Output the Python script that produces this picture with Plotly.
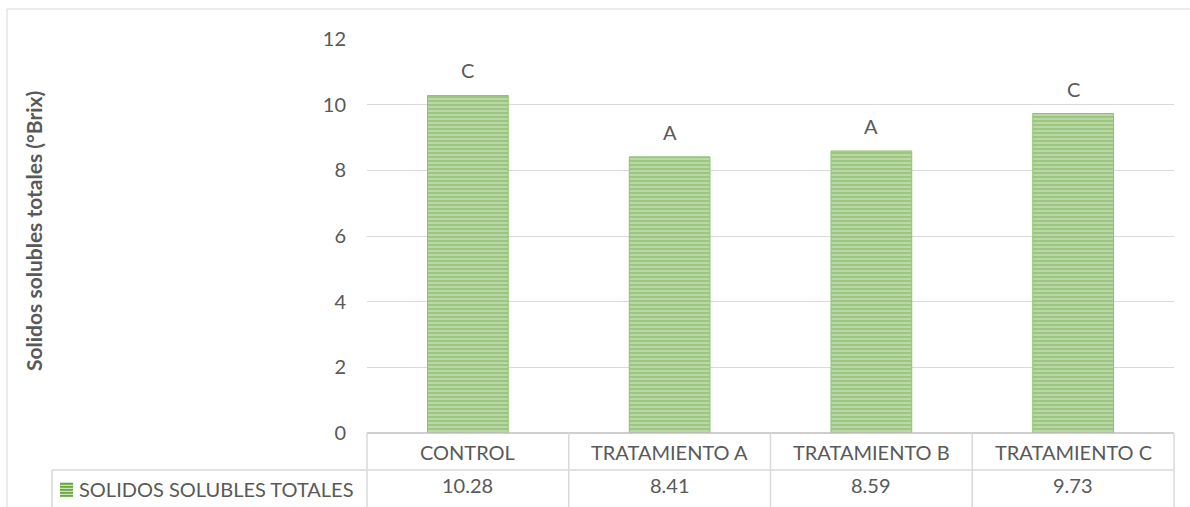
import plotly.graph_objects as go

# Data
categorias = ["CONTROL", "TRATAMIENTO A", "TRATAMIENTO B", "TRATAMIENTO C"]
solidos = [10.28, 8.41, 8.59, 9.73]
letras = ["C", "A", "A", "C"]
serie = "SOLIDOS SOLUBLES TOTALES"
y_ticks = [0, 2, 4, 6, 8, 10, 12]

# Canvas and plot-area geometry (pixels)
W, H = 1190, 507
L, R, T, B = 367, 16, 39, 74
pw = W - L - R
ph = H - T - B

FONT = "Lato"
FS = 20
TXT = "#595959"
GRID = "#D9D9D9"
AXIS = "#BFBFBF"
GREEN = "#6AA842"
PALE = "#CDE4BD"


def px(x):
    return (x - L) / pw


def py(y):
    return (H - B - y) / ph


fig = go.Figure()
fig.add_trace(go.Bar(
    x=categorias, y=solidos, name=serie, width=0.4,
    marker=dict(
        color=PALE,
        line=dict(color="#8DC46A", width=1),
        pattern=dict(shape="-", fgcolor=GREEN, bgcolor=PALE, size=4, solidity=0.7),
    ),
    showlegend=False,
))

shapes = []
# outer chart border
shapes.append(dict(type="rect", xref="paper", yref="paper",
                   x0=px(7), x1=px(W + 20), y0=py(H + 20), y1=py(9),
                   line=dict(color=GRID, width=1), fillcolor="rgba(0,0,0,0)", layer="below"))

# data table grid
n = len(categorias)
row1, row2, bottom = 433, 470, H + 20
shapes.append(dict(type="line", xref="paper", yref="paper", x0=0, x1=1, y0=py(row1), y1=py(row1),
                   line=dict(color=AXIS, width=1.5)))
shapes.append(dict(type="line", xref="paper", yref="paper", x0=px(52), x1=1, y0=py(row2), y1=py(row2),
                   line=dict(color=GRID, width=1.5)))
for i in range(n + 1):
    xx = i / n
    shapes.append(dict(type="line", xref="paper", yref="paper", x0=xx, x1=xx,
                       y0=py(row1), y1=py(bottom), line=dict(color=GRID, width=1.5)))
shapes.append(dict(type="line", xref="paper", yref="paper", x0=px(52), x1=px(52),
                   y0=py(row2), y1=py(bottom), line=dict(color=GRID, width=1.5)))

# legend key (striped swatch)
kx0, kx1, ky0, ky1 = 60, 73, 482, 497
shapes.append(dict(type="rect", xref="paper", yref="paper", x0=px(kx0), x1=px(kx1),
                   y0=py(ky1), y1=py(ky0), line=dict(width=0), fillcolor=PALE))
for k in range(5):
    yy = ky0 + 1.0 + k * 3
    shapes.append(dict(type="rect", xref="paper", yref="paper", x0=px(kx0), x1=px(kx1),
                       y0=py(yy + 1.8), y1=py(yy), line=dict(width=0), fillcolor=GREEN))

ann = []
for c, v, l in zip(categorias, solidos, letras):
    ann.append(dict(x=c, y=v, xref="x", yref="y", text=l, showarrow=False,
                    yanchor="middle", yshift=25, font=dict(family=FONT, size=FS, color=TXT)))
    ann.append(dict(x=c, y=py(451.5), xref="x", yref="paper", text=c, showarrow=False,
                    yanchor="middle", font=dict(family=FONT, size=FS, color=TXT)))
    ann.append(dict(x=c, y=py(485), xref="x", yref="paper", text=f"{v:.2f}", showarrow=False,
                    yanchor="middle", font=dict(family=FONT, size=FS, color=TXT)))

ann.append(dict(x=px(77), y=py(489), xref="paper", yref="paper", text=serie, showarrow=False,
                xanchor="left", yanchor="middle", font=dict(family=FONT, size=FS, color=TXT)))
ann.append(dict(x=px(33), y=py(231), xref="paper", yref="paper",
                text="<b>Solidos solubles totales (°Brix)</b>", showarrow=False, textangle=-90,
                xanchor="center", yanchor="middle", font=dict(family=FONT, size=21, color=TXT)))

fig.update_layout(
    width=W, height=H,
    margin=dict(l=L, r=R, t=T, b=B, pad=0),
    paper_bgcolor="white", plot_bgcolor="white",
    font=dict(family=FONT, color=TXT),
    shapes=shapes, annotations=ann,
    bargap=0.6,
)
fig.update_xaxes(range=[-0.5, n - 0.5], showticklabels=False, showgrid=False,
                 zeroline=False, showline=False, ticks="")
fig.update_yaxes(range=[0, 12], tickvals=y_ticks, gridcolor=GRID, gridwidth=1,
                 zeroline=False, showline=False, ticks="", ticklabelstandoff=20,
                 tickfont=dict(family=FONT, size=FS, color=TXT))

fig.write_html("out.html")
